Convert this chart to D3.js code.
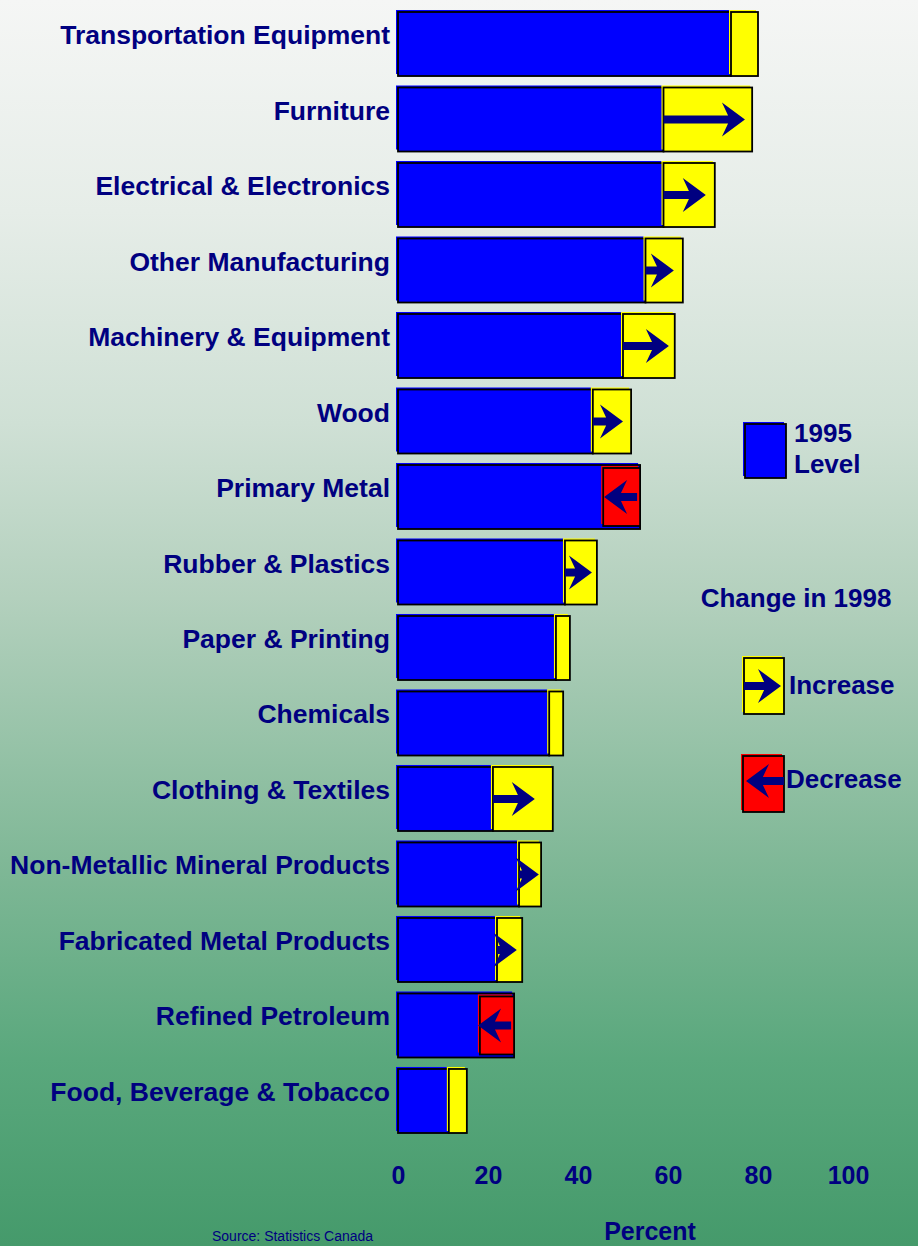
<!DOCTYPE html>
<html>
<head>
<meta charset="utf-8">
<script src="https://cdn.jsdelivr.net/npm/d3@7"></script>
<style>
  html, body { margin: 0; padding: 0; }
  svg { display: block; }
  text { font-family: "Liberation Sans", Arial, sans-serif; font-weight: bold; fill: #000080; }
</style>
</head>
<body>
<div id="chart"></div>
<script>
// industries, top to bottom
var categories = [
    "Transportation Equipment", "Furniture", "Electrical & Electronics",
    "Other Manufacturing", "Machinery & Equipment", "Wood", "Primary Metal",
    "Rubber & Plastics", "Paper & Printing", "Chemicals", "Clothing & Textiles",
    "Non-Metallic Mineral Products", "Fabricated Metal Products",
    "Refined Petroleum", "Food, Beverage & Tobacco"
];
// percent, 1995 level
var level1995 = [74, 59, 59, 55, 50, 43.3, 53.8, 37.1, 35.1, 33.6, 21.1, 26.9, 22, 25.8, 11.3];
// percent, 1998 level
var level1998 = [80, 78.7, 70.4, 63.3, 61.5, 51.8, 45.6, 44.2, 38.2, 36.7, 34.4, 31.8, 27.6, 18.2, 15.3];
// where the arrow tip sits (percent), null = no arrow drawn
var arrowTip = [null, 77.1, 68.4, 61.3, 60.2, 50, 45.8, 43.1, null, null, 30.4, 31.3, 26.4, 17.8, null];
var xTicks = [0, 20, 40, 60, 80, 100];

var W = 918, H = 1246;
var navy = "#000080";

var svg = d3.select("#chart").append("svg").attr("width", W).attr("height", H);

// background gradient
var grad = svg.append("defs").append("linearGradient")
        .attr("id", "bg").attr("x1", 0).attr("y1", 0).attr("x2", 0).attr("y2", 1);
[[0, "#f5f6f5"], [0.17, "#e6ede8"], [0.34, "#cfe0d5"], [0.48, "#b3d0bd"],
    [0.69, "#80b897"], [0.85, "#5aa87d"], [1, "#459a6b"]].forEach(function (s) {
    grad.append("stop").attr("offset", s[0]).attr("stop-color", s[1]);
});
svg.append("rect").attr("width", W).attr("height", H).attr("fill", "url(#bg)");

var x = d3.scaleLinear().domain([0, 100]).range([398, 848]);
var y = d3.scaleBand().domain(categories).range([12, 1133]).paddingInner(0.152).paddingOuter(0);
var bh = y.bandwidth();

/*
 * box with the old "shifted fill" look: colour peeks out top-left of the outline
 */
function box(g, x0, y0, w, h, color) {
    g.append("rect").attr("x", x0 - 2).attr("y", y0 - 2).attr("width", w).attr("height", h)
            .attr("fill", color);
    g.append("rect").attr("x", x0).attr("y", y0).attr("width", w).attr("height", h)
            .attr("fill", color).attr("stroke", "#000").attr("stroke-width", 1.8);
}

/*
 * stealth arrow from x0 to xTip at height cy
 */
function arrowPath(x0, xTip, cy) {
    var dir = xTip > x0 ? 1 : -1;
    var h = 4, hh = 17, len = 23, notch = 8;
    var hb = xTip - len * dir;
    var nx = hb + notch * dir;
    var sx = hb + (nx - hb) * (hh - h) / hh;
    return "M" + x0 + "," + (cy - h) + "L" + sx + "," + (cy - h) + "L" + hb + "," + (cy - hh)
            + "L" + xTip + "," + cy + "L" + hb + "," + (cy + hh) + "L" + sx + "," + (cy + h)
            + "L" + x0 + "," + (cy + h) + "Z";
}

var rows = svg.append("g");
categories.forEach(function (c, i) {
    var g = rows.append("g");
    var top = y(c), cy = top + bh / 2;
    var a = level1995[i], b = level1998[i];
    box(g, x(0), top, x(a) - x(0), bh, "#0000ff");
    if (b >= a) {
        box(g, x(a), top, x(b) - x(a), bh, "#ffff00");
        if (arrowTip[i] !== null)
            g.append("path").attr("d", arrowPath(x(a), x(arrowTip[i]), cy)).attr("fill", navy);
    } else {
        box(g, x(b), top + 3, x(a) - x(b), bh - 6, "#ff0000");
        if (arrowTip[i] !== null)
            g.append("path").attr("d", arrowPath(x(a) - 3, x(arrowTip[i]), cy)).attr("fill", navy);
    }
    g.append("text").attr("x", 390).attr("y", cy).attr("text-anchor", "end")
            .attr("font-size", 26.5).text(c);
});

// x axis, labels only
var axis = svg.append("g").attr("transform", "translate(0,1184)")
        .call(d3.axisBottom(x).tickValues(xTicks).tickSize(0).tickPadding(0));
axis.select(".domain").remove();
axis.selectAll("text").attr("y", 0).attr("dy", null)
        .style("font-family", "'Liberation Sans', Arial, sans-serif")
        .style("font-weight", "bold").style("font-size", "25px").style("fill", navy);

svg.append("text").attr("x", 650).attr("y", 1240).attr("text-anchor", "middle")
        .attr("font-size", 25).text("Percent");
svg.append("text").attr("x", 212).attr("y", 1241).attr("font-size", 14)
        .style("font-weight", "normal").text("Source: Statistics Canada");

// legend
var lg = svg.append("g");
box(lg, 745, 424, 41, 54, "#0000ff");
lg.append("text").attr("x", 794).attr("y", 442).attr("font-size", 26).text("1995");
lg.append("text").attr("x", 794).attr("y", 473).attr("font-size", 26).text("Level");
lg.append("text").attr("x", 796).attr("y", 607).attr("text-anchor", "middle")
        .attr("font-size", 26).text("Change in 1998");
box(lg, 744, 658, 40, 56, "#ffff00");
lg.append("path").attr("d", arrowPath(744, 781, 686)).attr("fill", navy);
lg.append("text").attr("x", 789).attr("y", 694).attr("font-size", 26).text("Increase");
box(lg, 743, 756, 41, 56, "#ff0000");
lg.append("path").attr("d", arrowPath(784, 746, 781)).attr("fill", navy);
lg.append("text").attr("x", 786).attr("y", 788).attr("font-size", 26).text("Decrease");
</script>
</body>
</html>
